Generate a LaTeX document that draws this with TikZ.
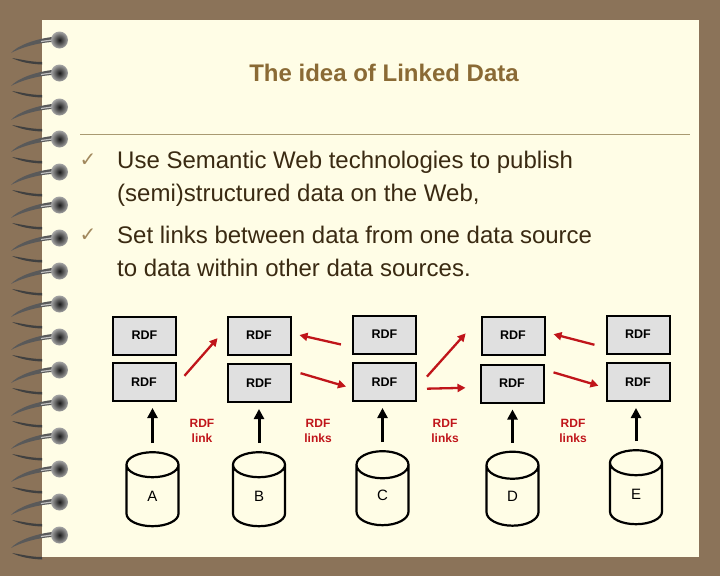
\documentclass[tikz,border=0pt]{standalone}
\usepackage{fontspec}
\setmainfont{Liberation Sans}
\newfontfamily\checkfont{DejaVu Sans}
\usetikzlibrary{shapes.geometric}
\usetikzlibrary{arrows.meta}
\definecolor{board}{HTML}{8B7359}
\definecolor{paper}{HTML}{FFFDE6}
\definecolor{ink}{HTML}{3A2A12}
\definecolor{headbrown}{HTML}{8A6A35}
\definecolor{rulebrown}{HTML}{A99A72}
\definecolor{linkred}{HTML}{C0151A}
\tikzset{
  rdfbox/.style={draw=black, line width=2pt, fill=black!12, minimum width=63pt, minimum height=38pt, inner sep=0pt, font=\bfseries\fontsize{12.5}{14}\selectfont},
  dbcyl/.style={cylinder, shape border rotate=90, aspect=2.5, draw=black, line width=2.2pt, minimum width=52pt, minimum height=74pt, inner sep=0pt, font=\fontsize{15}{17}\selectfont},
  srcarrow/.style={line width=3pt, -{Stealth[length=10pt, width=10pt, inset=0pt]}, shorten <=8pt, shorten >=6pt},
  linkarrow/.style={line width=2.3pt, linkred, -{Stealth[length=8pt, width=8pt, inset=0pt]}},
  linklabel/.style={linkred, align=center, inner sep=0pt, font=\bfseries\fontsize{12}{15}\selectfont},
  bodytext/.style={ink, align=left, inner sep=0pt, anchor=west, font=\fontsize{24}{33}\selectfont},
  tick/.style={headbrown!80, inner sep=0pt, font=\checkfont\fontsize{20}{20}\selectfont}
}
\begin{document}
\begin{tikzpicture}[x=1pt, y=-1pt]
    \useasboundingbox (0,0) rectangle (720,576);
    \fill[board] (0,0) rectangle (720,576);
    \fill[paper] (42,20) rectangle (699,557);
    \foreach \ry in {40,73,107,139,172,205,238,271,304,337,370,403,436,469,502,535} {
      \fill[black!75] (12,\ry+18) .. controls (24,\ry+20) and (32,\ry+22) .. (42,\ry+22) -- (42,\ry+24.5) .. controls (30,\ry+24) and (20,\ry+22) .. (12,\ry+18) -- cycle;
      \fill[black!65] (52,\ry-3) .. controls (36,\ry-1) and (18,\ry+5) .. (11,\ry+13) .. controls (20,\ry+8) and (36,\ry+3) .. (52,\ry+2) -- cycle;
      \draw[white!75!black, line width=1.2pt] (52,\ry) -- (41,\ry+1.5);
      \shade[inner color=black!90, outer color=black!35] (59.5,\ry) circle (8.5);
    }
    \node[headbrown, inner sep=0pt, font=\bfseries\fontsize{24}{28}\selectfont] (title) at (384,73) {The idea of Linked Data};
    \coordinate (ruleL) at (80,134);
    \coordinate (ruleR) at (690,134);
    \draw[rulebrown, line width=1pt] (ruleL) -- (ruleR);
    \node[tick] (tickA) at (88,160) {✓};
    \node[bodytext] (itemA) at (117,179) {Use Semantic Web technologies to publish\\(semi)structured data on the Web,};
    \node[tick] (tickB) at (88,235) {✓};
    \node[bodytext] (itemB) at (117,251.5) {Set links between data from one data source\\to data within other data sources.};
    \foreach \nm/\cx/\cy in {A1/144.5/335.5, A2/144/382, B1/259/335.5, B2/259/383, C1/384.5/334.5, C2/384.5/382, D1/513/335.5, D2/512/383.5, E1/638/334.5, E2/638/382} {
      \node[rdfbox] (rdf\nm) at (\cx,\cy) {RDF};
    }
    \foreach \nm/\cx/\cy in {A/152.5/496, B/259/496, C/382.5/495.5, D/512.5/496, E/636/494} {
      \node[dbcyl] (db\nm) at (\cx,\cy) {\nm};
      \draw[srcarrow] (db\nm.top) -- (db\nm.top |- rdf\nm2.south);
    }
    \draw[linkarrow, shorten <=12pt, shorten >=13.5pt] (rdfA2.-5) -- (rdfB1.167);
    \draw[linkarrow, shorten <=11.3pt, shorten >=8.2pt] (rdfC1.201.8) -- (rdfB1.4.5);
    \draw[linkarrow, shorten <=9.4pt, shorten >=6.3pt] (rdfB2.21.6) -- (rdfC2.191.8);
    \draw[linkarrow, shorten <=14.9pt, shorten >=22.3pt] (rdfC2.-10.5) -- (rdfD1.150.6);
    \draw[linkarrow, shorten <=10pt, shorten >=14pt] (rdfC2.-12.7) -- (rdfD2.187);
    \draw[linkarrow, shorten <=11.4pt, shorten >=8.3pt] (rdfE1.202.7) -- (rdfD1.6.4);
    \draw[linkarrow, shorten <=9.4pt, shorten >=7.3pt] (rdfD2.23.9) -- (rdfE2.190.6);
    \node[linklabel] (labelA) at (202,431) {RDF\\link};
    \node[linklabel] (labelB) at (318,431) {RDF\\links};
    \node[linklabel] (labelC) at (445,431) {RDF\\links};
    \node[linklabel] (labelD) at (573,431) {RDF\\links};
\end{tikzpicture}
\end{document}
